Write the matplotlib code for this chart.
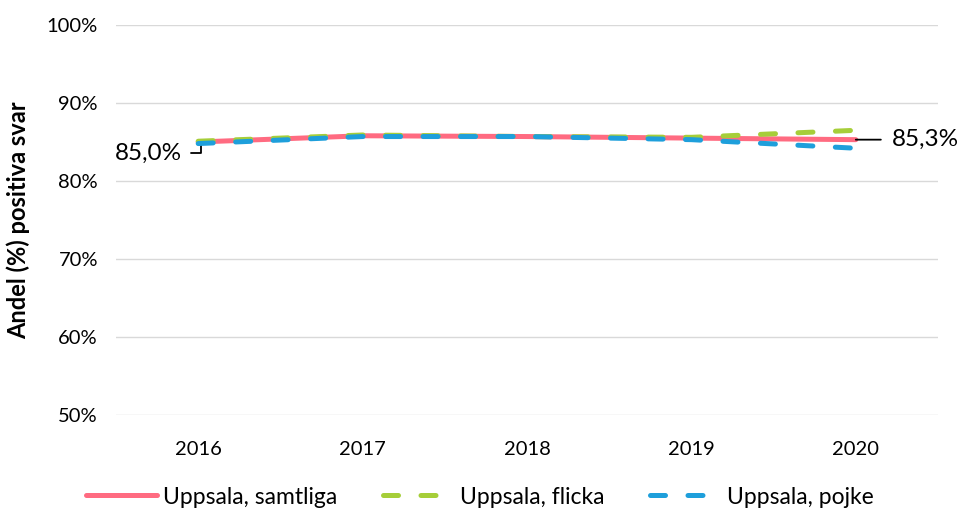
import matplotlib.pyplot as plt

plt.rcParams['font.family'] = ['Lato', 'DejaVu Sans']

years = ['2016', '2017', '2018', '2019', '2020']
samtliga = [85.0, 85.8, 85.7, 85.5, 85.3]
flicka = [85.1, 85.9, 85.7, 85.6, 86.5]
pojke = [84.8, 85.7, 85.7, 85.3, 84.2]
yticks = [50, 60, 70, 80, 90, 100]

fig = plt.figure(figsize=(9.6, 5.09), dpi=100)
ax = fig.add_axes([116/960, 1 - 415/509, (938-116)/960, (415-25)/509])

x = range(len(years))
ax.plot(x, samtliga, color='#FF6B81', lw=3.6, solid_capstyle='round', label='Uppsala, samtliga', zorder=3)
ax.plot(x, flicka, color='#A6CE39', lw=3.6, dashes=(3, 4.5), dash_capstyle='round', label='Uppsala, flicka', zorder=4)
ax.plot(x, pojke, color='#1E9FDB', lw=3.6, dashes=(3, 4.5), dash_capstyle='round', label='Uppsala, pojke', zorder=5)

ax.set_xlim(-0.5, 4.5)
ax.set_ylim(50, 100)
ax.set_yticks(yticks)
ax.set_yticklabels([f'{v}%' for v in yticks], fontsize=14.5)
ax.set_xticks(list(x))
ax.set_xticklabels(years, fontsize=14.5)
ax.tick_params(length=0)
ax.tick_params(axis='x', pad=19)
ax.tick_params(axis='y', pad=13)
ax.grid(axis='y', color='#d9d9d9', lw=1)
ax.set_axisbelow(True)
for s in ax.spines.values():
    s.set_visible(False)

ax.set_ylabel('Andel (%) positiva svar', fontsize=17, fontweight='bold')
ax.yaxis.set_label_coords(-0.105, 0.5)

# data labels
ax.annotate(f'{samtliga[0]:.1f}%'.replace('.', ','), xy=(0.02, samtliga[0]), xytext=(-0.1, samtliga[0] - 1.45),
            fontsize=17.5, ha='right', va='center',
            arrowprops=dict(arrowstyle='-', color='black', lw=1.3, connectionstyle='angle,angleA=0,angleB=90,rad=0',
                            shrinkA=5, shrinkB=0))
ax.annotate(f'{samtliga[-1]:.1f}%'.replace('.', ','), xy=(4, samtliga[-1]), xytext=(4.22, samtliga[-1]),
            fontsize=17.5, ha='left', va='center',
            arrowprops=dict(arrowstyle='-', color='black', lw=1.3, shrinkA=6, shrinkB=0))

fig.legend(loc='center', ncol=3, frameon=False, fontsize=16.5, handlelength=3.1, handletextpad=0.25,
           columnspacing=2.0, bbox_to_anchor=(0.5, 1 - 497/509))

fig.savefig('out.png', dpi=100)
